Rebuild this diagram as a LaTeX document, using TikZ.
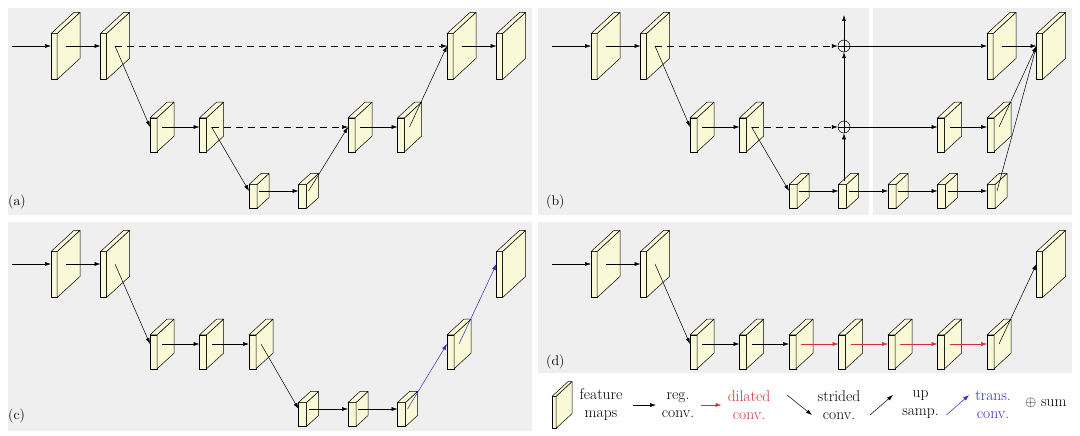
\documentclass[tikz,border=0pt]{standalone}
\usepackage{fontspec}
\usepackage{tikz}
\usetikzlibrary{positioning,arrows.meta,calc}
\definecolor{fmyellow}{HTML}{F9F9D8}
\definecolor{panelgray}{HTML}{EFEFEF}
\definecolor{dilred}{HTML}{D0303C}
\definecolor{transblue}{HTML}{2B2BC8}

\tikzset{
  fmface/.style={draw, fill=fmyellow, line width=0.5pt, inner sep=0pt, outer sep=0pt, line join=round},
  regconv/.style={-{Latex[length=6pt,width=4pt]}, line width=0.5pt},
  dilconv/.style={regconv, dilred},
  transconv/.style={regconv, transblue},
  skipconn/.style={regconv, dash pattern=on 7pt off 5pt},
  sumnode/.style={circle, draw, line width=0.5pt, minimum size=12pt, inner sep=0pt,
    path picture={\draw[line width=0.5pt] (path picture bounding box.north) -- (path picture bounding box.south)
      (path picture bounding box.west) -- (path picture bounding box.east);}},
  plabel/.style={font=\fontsize{14}{16}\selectfont, anchor=west, inner sep=0pt},
  legtext/.style={font=\fontsize{15.5}{18}\selectfont, align=center, inner sep=0pt},
}

% feature map: name, x of front face, y of arrow line, height, thickness
\newcommand{\fmap}[5]{%
  \pgfmathsetmacro\fmdx{0.5*#4}%
  \pgfmathsetmacro\fmdy{0.46*#4}%
  \node[fmface, minimum width=#5pt, minimum height=#4pt] (#1) at ({#2+#5/2}, {#3+\fmdy/2}) {};
  \filldraw[fmface] (#1.north east) -- ++(\fmdx,-\fmdy) -- ++(0,#4) -- (#1.south east) -- cycle;
  \filldraw[fmface] (#1.north west) -- ++(\fmdx,-\fmdy) -- ++(#5,0) -- (#1.north east) -- cycle;
  \coordinate (#1c) at ({#2+(#5+\fmdx)/2}, #3);
  \coordinate (#1i) at (#1.west |- #1c);
}
\newcommand{\fmL}[3]{\fmap{#1}{#2}{#3}{46}{6}}
\newcommand{\fmM}[3]{\fmap{#1}{#2}{#3}{34}{7}}
\newcommand{\fmS}[3]{\fmap{#1}{#2}{#3}{24}{8}}

\begin{document}
\begin{tikzpicture}[x=1pt, y=-1pt]
  \useasboundingbox (0,0) rectangle (1080,436);
  % panels
  \fill[panelgray] (8,8) rectangle (532,215);
  \fill[panelgray] (538,8) rectangle (869,215);
  \fill[panelgray] (873,8) rectangle (1072,215);
  \fill[panelgray] (8,222) rectangle (532,431);
  \fill[panelgray] (538,222) rectangle (1072,373);

  % (a)
  \fmL{a0}{51}{46} \fmL{a1}{100.5}{46}
  \fmM{a2}{150}{127} \fmM{a3}{199.5}{127}
  \fmS{a4}{249}{191} \fmS{a5}{298.5}{191}
  \fmM{a6}{348}{127} \fmM{a7}{397.5}{127}
  \fmL{a8}{447}{46} \fmL{a9}{496.5}{46}
  \coordinate (ain) at (12,46);
  \draw[regconv] (ain) -- (a0i);
  \draw[regconv] (a0c) -- (a1i);
  \draw[skipconn] (a1c) -- (a8i);
  \draw[regconv] (a1c) -- (a2i);
  \draw[regconv] (a2c) -- (a3i);
  \draw[skipconn] (a3c) -- (a6i);
  \draw[regconv] (a3c) -- (a4i);
  \draw[regconv] (a4c) -- (a5i);
  \draw[regconv] (a5c) -- (a6i);
  \draw[regconv] (a6c) -- (a7i);
  \draw[regconv] (a7c) -- (a8i);
  \draw[regconv] (a8c) -- (a9i);
  \node[plabel] (la) at (8,202) {(a)};

  % (b)
  \fmL{b0}{591}{46} \fmL{b1}{640.5}{46}
  \fmM{b2}{690}{127} \fmM{b3}{739.5}{127}
  \fmS{b4}{789}{191} \fmS{b5}{838.5}{191} \fmS{b6}{888}{191}
  \fmS{b7}{937.5}{191} \fmS{b8}{987}{191}
  \fmM{b9}{937.5}{127} \fmM{b10}{987}{127}
  \fmL{b11}{987}{46} \fmL{b12}{1036.5}{46}
  \node[sumnode] (s1) at (844,46) {};
  \node[sumnode] (s2) at (844,127) {};
  \coordinate (bin) at (552,46);
  \coordinate (bout) at (844,15);
  \draw[regconv] (bin) -- (b0i);
  \draw[regconv] (b0c) -- (b1i);
  \draw[skipconn] (b1c) -- (s1);
  \draw[regconv] (b1c) -- (b2i);
  \draw[regconv] (b2c) -- (b3i);
  \draw[skipconn] (b3c) -- (s2);
  \draw[regconv] (b3c) -- (b4i);
  \draw[regconv] (b4c) -- (b5i);
  \draw[regconv] (b5c) -- (b6i);
  \draw[regconv] (b6c) -- (b7i);
  \draw[regconv] (b7c) -- (b8i);
  \draw[regconv] (s2 |- b5.north) ++(0,-4) -- (s2);
  \draw[regconv] (s2) -- (s1);
  \draw[regconv] (s1) -- (bout);
  \draw[regconv] (s1) -- (b11i);
  \draw[regconv] (s2) -- (b9i);
  \draw[regconv] (b9c) -- (b10i);
  \draw[regconv] (b11c) -- (b12i);
  \draw[regconv] (b10c) -- (b12i);
  \draw[regconv] (b8c) -- (b12i);
  \node[plabel] (lb) at (546,202) {(b)};

  % (c)
  \fmL{c0}{51}{264} \fmL{c1}{100.5}{264}
  \fmM{c2}{150}{344} \fmM{c3}{199.5}{344} \fmM{c4}{249}{344}
  \fmS{c5}{298.5}{409} \fmS{c6}{348}{409} \fmS{c7}{397.5}{409}
  \fmM{c8}{447}{344}
  \fmL{c9}{496.5}{264}
  \coordinate (cin) at (12,264);
  \draw[regconv] (cin) -- (c0i);
  \draw[regconv] (c0c) -- (c1i);
  \draw[regconv] (c1c) -- (c2i);
  \draw[regconv] (c2c) -- (c3i);
  \draw[regconv] (c3c) -- (c4i);
  \draw[regconv] (c4c) -- (c5i);
  \draw[regconv] (c5c) -- (c6i);
  \draw[regconv] (c6c) -- (c7i);
  \draw[transconv] (c7c) -- (c8i);
  \draw[transconv] (c8c) -- (c9i);
  \node[plabel] (lc) at (8,416) {(c)};

  % (d)
  \fmL{d0}{591}{264} \fmL{d1}{640.5}{264}
  \fmM{d2}{690}{344} \fmM{d3}{739.5}{344} \fmM{d4}{789}{344}
  \fmM{d5}{838.5}{344} \fmM{d6}{888}{344} \fmM{d7}{937.5}{344}
  \fmM{d8}{987}{344}
  \fmL{d9}{1036.5}{264}
  \coordinate (din) at (552,264);
  \draw[regconv] (din) -- (d0i);
  \draw[regconv] (d0c) -- (d1i);
  \draw[regconv] (d1c) -- (d2i);
  \draw[regconv] (d2c) -- (d3i);
  \draw[regconv] (d3c) -- (d4i);
  \draw[dilconv] (d4c) -- (d5i);
  \draw[dilconv] (d5c) -- (d6i);
  \draw[dilconv] (d6c) -- (d7i);
  \draw[dilconv] (d7c) -- (d8i);
  \draw[regconv] (d8c) -- (d9i);
  \node[plabel] (ld) at (546,362) {(d)};

  % legend
  \fmap{lg}{552}{405}{32}{4}
  \node[legtext] (lfeat) at (601,405) {feature\\maps};
  \coordinate (lr1) at (633,405);
  \coordinate (lr2) at (656,405);
  \draw[regconv] (lr1) -- (lr2);
  \node[legtext] (lreg) at (678,405) {reg.\\conv.};
  \coordinate (ld1) at (701,405);
  \coordinate (ld2) at (721.5,405);
  \draw[dilconv] (ld1) -- (ld2);
  \node[legtext, text=dilred] (ldil) at (749,405) {dilated\\conv.};
  \coordinate (ls1) at (787,395);
  \coordinate (ls2) at (812,415);
  \draw[regconv] (ls1) -- (ls2);
  \node[legtext] (lstr) at (839,405) {strided\\conv.};
  \coordinate (lu1) at (870,415);
  \coordinate (lu2) at (893,395);
  \draw[regconv] (lu1) -- (lu2);
  \node[legtext] (lup) at (920.5,405) {up\\samp.};
  \coordinate (lt1) at (946.5,415);
  \coordinate (lt2) at (969,395);
  \draw[transconv] (lt1) -- (lt2);
  \node[legtext, text=transblue] (ltr) at (993,405) {trans.\\conv.};
  \node[legtext, anchor=west] (lsum) at (1025,403) {$\oplus$ sum};
\end{tikzpicture}
\end{document}
